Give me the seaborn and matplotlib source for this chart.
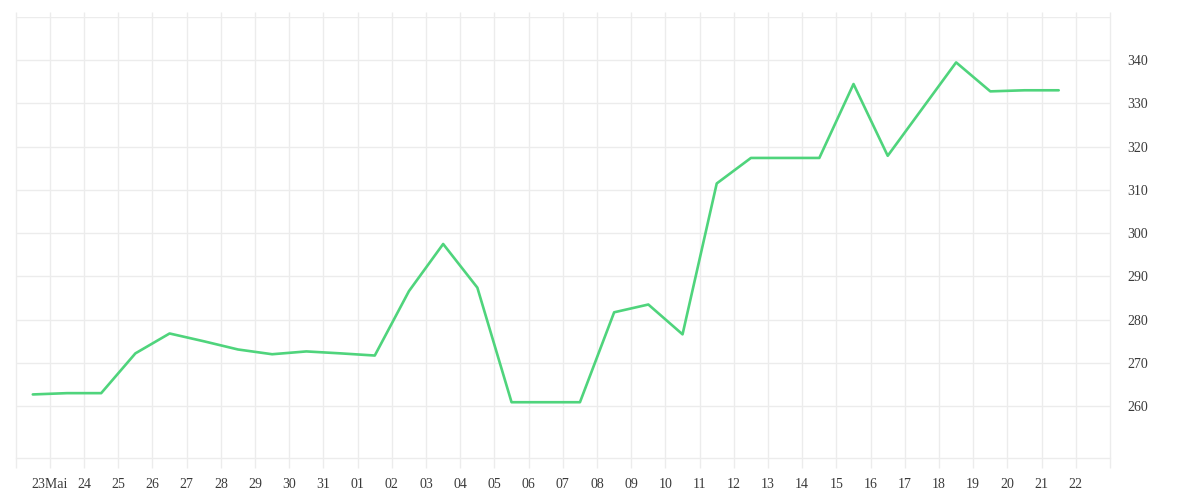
import matplotlib
matplotlib.use("Agg")
import matplotlib.pyplot as plt
import matplotlib.dates as mdates
import seaborn as sns
import pandas as pd
import numpy as np

# ---- data ----
dates = pd.date_range("2023-05-22 12:00", periods=31, freq="D")
values = [262.7, 263.0, 263.0, 272.2, 276.8, 275.0, 273.1, 272.0, 272.65, 272.2,
          271.7, 286.6, 297.5, 287.4, 260.9, 260.9, 260.9, 281.7, 283.5, 276.6,
          311.5, 317.4, 317.4, 317.4, 334.5, 317.9, 328.7, 339.5, 332.8, 333.05,
          333.05]
tick_dates = pd.date_range("2023-05-22", "2023-06-23", freq="D")
tick_labels = ["", "23Mai", "24", "25", "26", "27", "28", "29", "30", "31",
               "01", "02", "03", "04", "05", "06", "07", "08", "09", "10",
               "11", "12", "13", "14", "15", "16", "17", "18", "19", "20",
               "21", "22", ""]
y_ticks = [260, 270, 280, 290, 300, 310, 320, 330, 340, 350]
y_labels = ["260", "270", "280", "290", "300", "310", "320", "330", "340", ""]

df = pd.DataFrame({"date": dates, "value": values})

sns.set_theme(style="white")
plt.rcParams["font.family"] = ["Liberation Serif", "DejaVu Serif"]

fig = plt.figure(figsize=(12, 5), dpi=100)
ax = fig.add_axes([15.7 / 1200, 1 - 458 / 500, (1110 - 15.7) / 1200, (458 - 17) / 500])

grid_c = "#ececec"
sns.lineplot(data=df, x="date", y="value", ax=ax, color="#4fd47c", linewidth=1.9, zorder=3)

ax.set_xlim(tick_dates[0], tick_dates[-1])
ax.set_ylim(248, 350)

# vertical grid lines extending slightly beyond plot area
ax.vlines(tick_dates, -10 / 441, 1 + 5 / 441, transform=ax.get_xaxis_transform(),
          colors=grid_c, linewidth=1, clip_on=False, zorder=0)

ax.set_xticks(tick_dates)
ax.set_xticklabels(tick_labels)
ax.set_yticks(y_ticks)
ax.set_yticklabels(y_labels)
ax.yaxis.tick_right()
ax.grid(axis="y", color=grid_c, linewidth=1)
ax.grid(axis="x", visible=False)

for s in ["left", "right", "top"]:
    ax.spines[s].set_visible(False)
ax.spines["bottom"].set_color(grid_c)
ax.spines["bottom"].set_linewidth(1)

ax.tick_params(axis="x", length=0, pad=14.5, labelsize=10, labelcolor="#3a3a3a")
ax.tick_params(axis="y", length=0, pad=12.5, labelsize=10, labelcolor="#3a3a3a")
for lbl in ax.get_yticklabels():
    lbl.set_y(lbl.get_position()[1])
ax.set_xlabel("")
ax.set_ylabel("")

fig.savefig("out.png", dpi=100, facecolor="white")
